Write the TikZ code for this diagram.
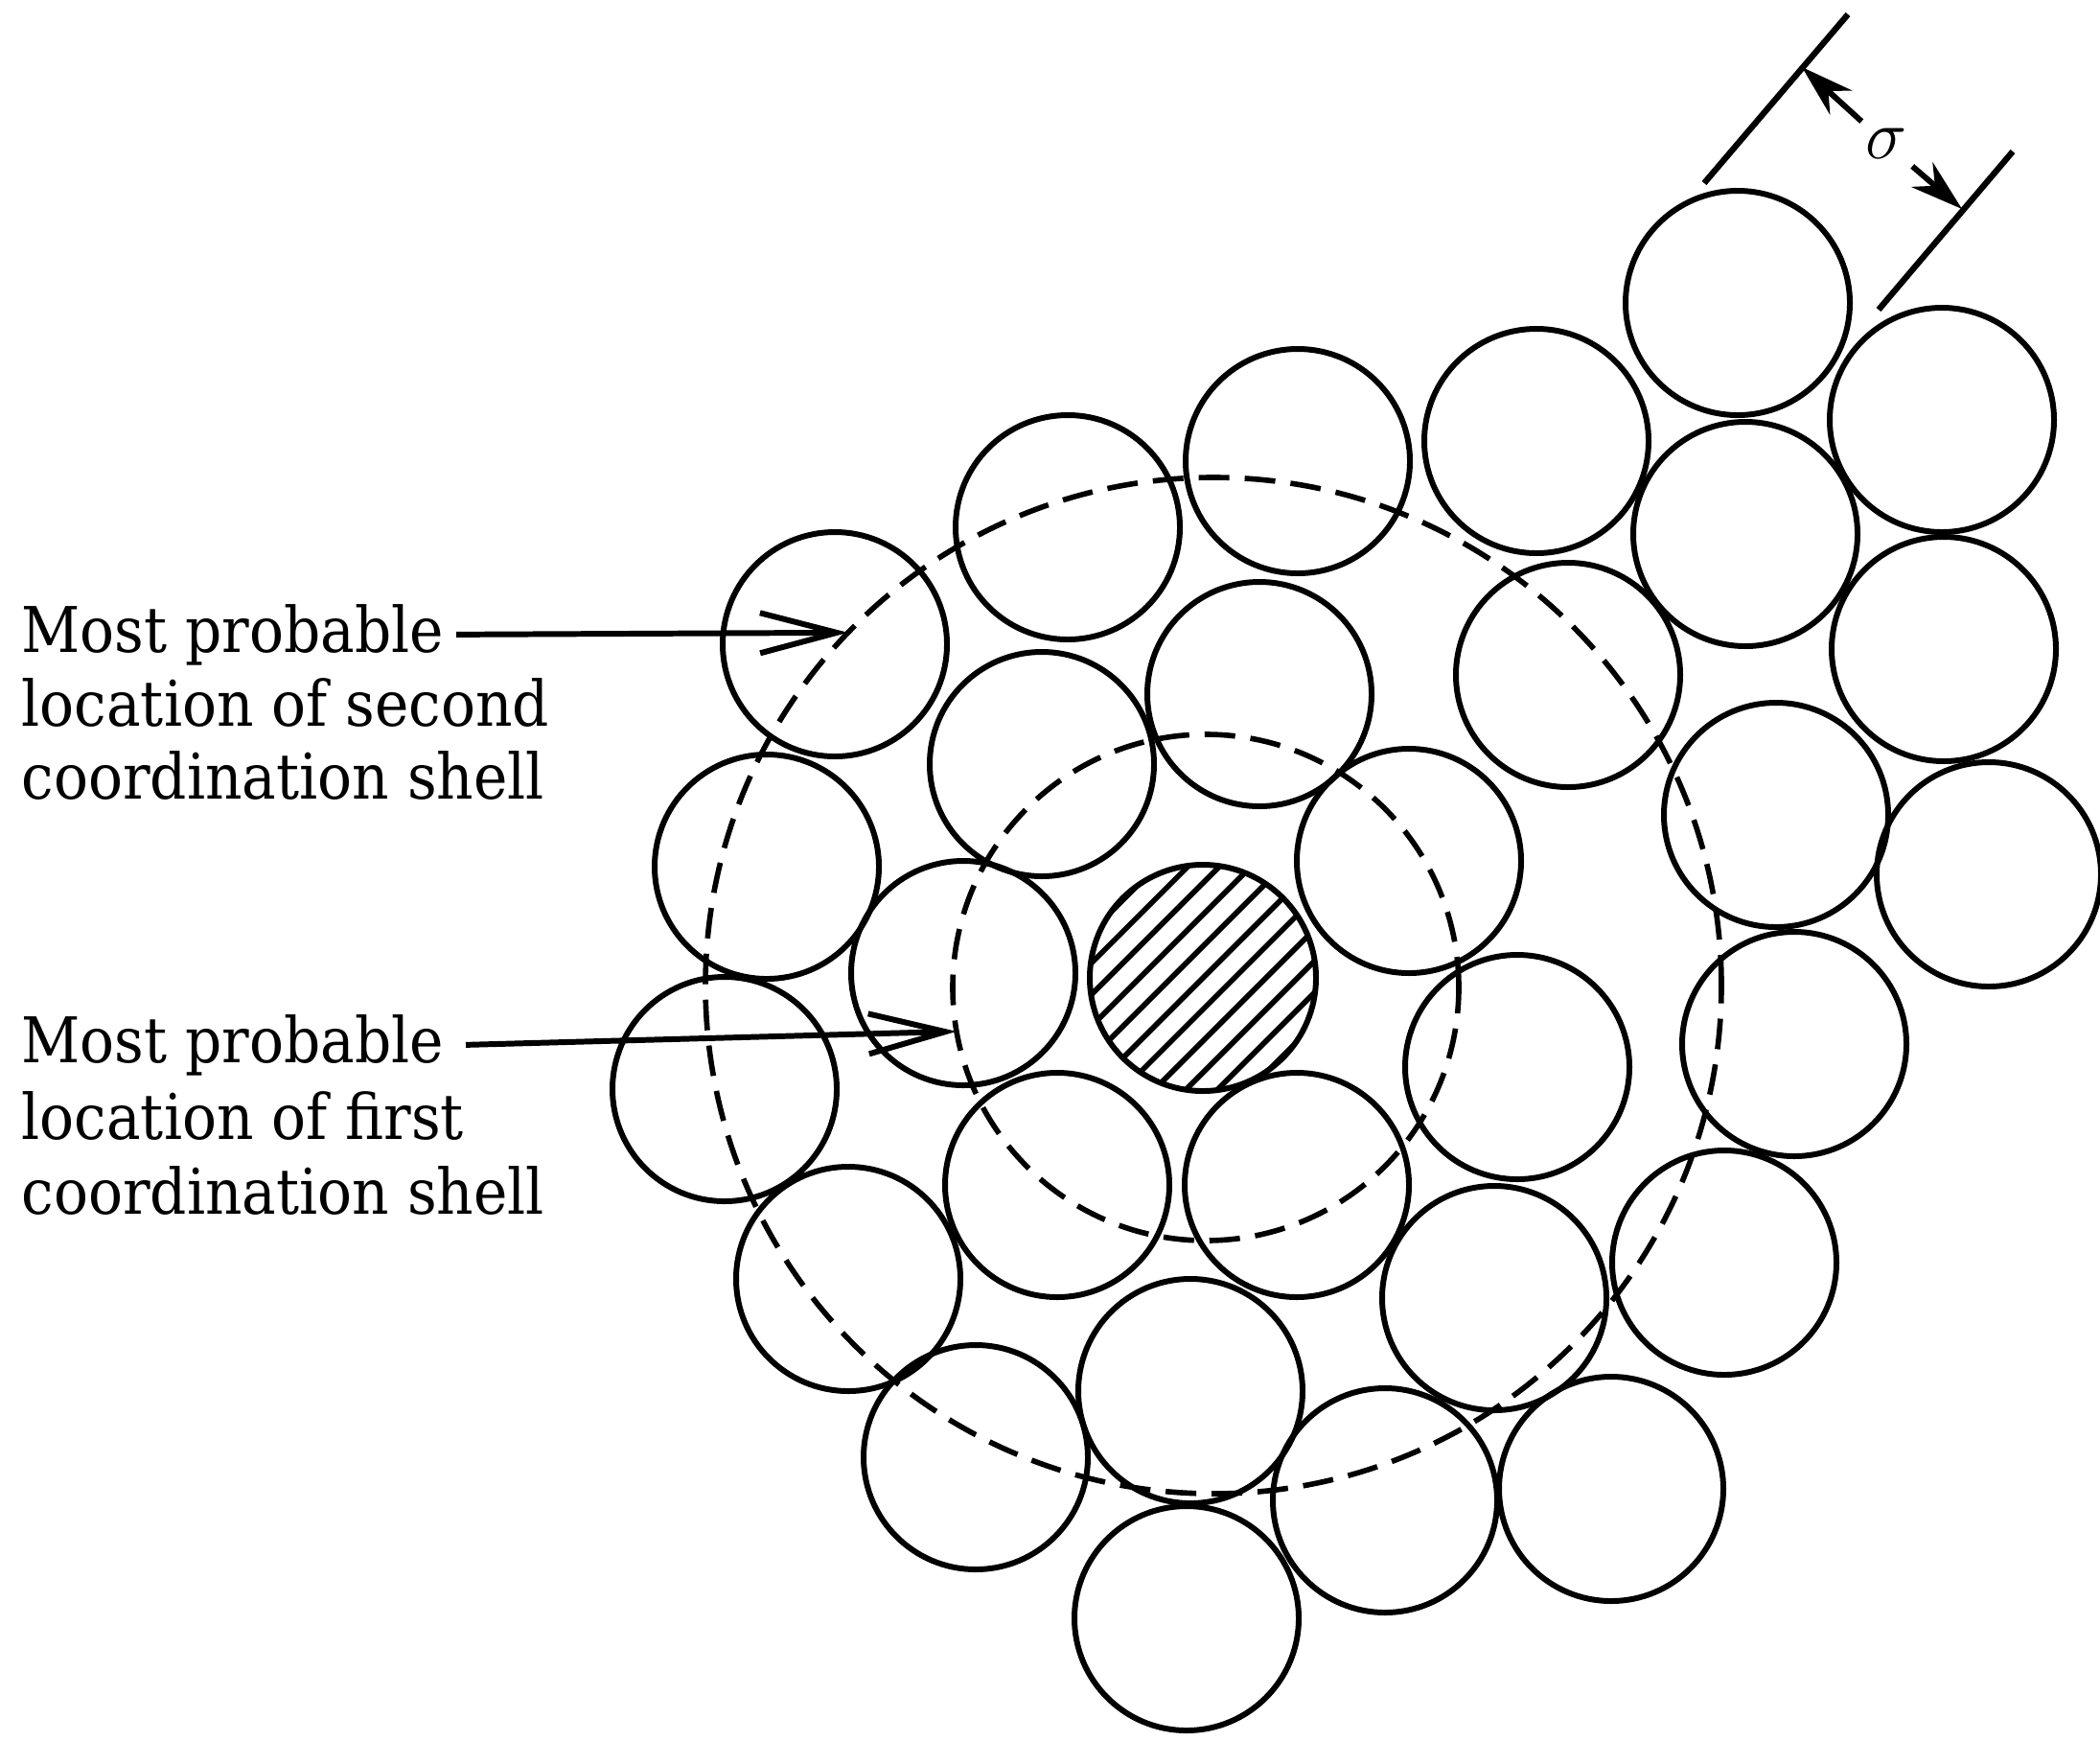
\documentclass[tikz,border=0pt]{standalone}
\usepackage{amsmath}
\usepackage{fontspec}
\newfontfamily\labelfont{DejaVu Serif}[FakeStretch=0.91]
\usetikzlibrary{arrows.meta}

\begin{document}
\begin{tikzpicture}[
  ball/.style={circle,draw,line width=1.7pt,minimum size=2.34cm,inner sep=0pt,outer sep=0pt},
  shell/.style={circle,draw,line width=1.6pt,dash pattern=on 3.2mm off 1.6mm,inner sep=0pt,outer sep=0pt},
  lbl/.style={anchor=base west,inner sep=0pt,font=\labelfont\fontsize{18.7pt}{21pt}\selectfont},
  pointer/.style={line width=1.7pt,-{Straight Barb[length=8mm,width=4.2mm]}},
  dimline/.style={line width=1.8pt},
  dimarrow/.style={line width=1.7pt,-{Stealth[length=5.5mm,width=3.4mm]}}]
\useasboundingbox (0,0) rectangle (21.91,-18.15);
% the two shells
\node[shell,minimum size=5.28cm] (first) at (12.58,-10.30) {};
\node[shell,minimum size=10.6cm] (second) at (12.66,-10.28) {};
% neighbours
\path (18.13,-3.16)  node[ball] (s1) {}
      (20.26,-4.38)  node[ball] (s2) {}
      (18.21,-5.57)  node[ball] (s3) {}
      (20.28,-6.77)  node[ball] (s4) {}
      (16.03,-4.60)  node[ball] (s5) {}
      (13.54,-4.81)  node[ball] (s6) {}
      (11.14,-5.50)  node[ball] (s7) {}
      (8.71,-6.72)   node[ball] (s8) {}
      (16.36,-7.04)  node[ball] (s9) {}
      (13.14,-7.24)  node[ball] (s10) {}
      (10.87,-7.97)  node[ball] (s11) {}
      (8.00,-9.04)   node[ball] (s12) {}
      (18.53,-8.50)  node[ball] (s13) {}
      (20.75,-9.12)  node[ball] (s14) {}
      (14.70,-8.98)  node[ball] (s15) {}
      (10.05,-10.15) node[ball] (s16) {}
      (18.72,-10.89) node[ball] (s17) {}
      (7.56,-11.36)  node[ball] (s18) {}
      (15.83,-11.13) node[ball] (s19) {}
      (11.03,-12.36) node[ball] (s20) {}
      (13.53,-12.36) node[ball] (s21) {}
      (17.99,-13.17) node[ball] (s22) {}
      (8.85,-13.34)  node[ball] (s23) {}
      (15.59,-13.54) node[ball] (s24) {}
      (12.42,-14.51) node[ball] (s25) {}
      (10.18,-15.20) node[ball] (s26) {}
      (14.45,-15.65) node[ball] (s27) {}
      (16.81,-15.53) node[ball] (s28) {}
      (12.38,-16.88) node[ball] (s29) {};
% central molecule
\begin{scope}[shift={(12.55,-10.20)},rotate=45]
  \clip (0,0) circle (1.18);
  \foreach \k in {-5,...,5}
    \draw[line width=1.6pt] (-1.3,\k*0.233) -- (1.3,\k*0.233);
\end{scope}
\node[ball,minimum size=2.36cm] (h) at (12.55,-10.20) {};
% sigma
\coordinate (u1) at (17.78,-1.91);
\coordinate (v1) at (19.28,-0.15);
\coordinate (u2) at (19.60,-3.23);
\coordinate (v2) at (21.00,-1.58);
\draw[dimline] (u1) -- (v1)
               (u2) -- (v2);
\coordinate (t1) at (18.80,-0.70);
\coordinate (t2) at (20.47,-2.18);
\node[inner sep=2pt,font=\fontsize{20pt}{22pt}\selectfont] (sig) at (19.68,-1.50) {$\sigma$};
\draw[dimarrow] (sig) -- (t1);
\draw[dimarrow] (sig) -- (t2);
% labels
\node[lbl] (m2) at (0.22,-6.80) {Most probable};
\node[lbl] (l2) at (0.22,-7.57) {location of second};
\node[lbl] (c2) at (0.22,-8.33) {coordination shell};
\node[lbl] (m1) at (0.22,-11.08) {Most probable};
\node[lbl] (l1) at (0.22,-11.88) {location of first};
\node[lbl] (c1) at (0.22,-12.66) {coordination shell};
\draw[pointer] ([xshift=1.2mm]m2.east) -- (second.136);
\draw[pointer] ([xshift=2.2mm]m1.east) -- (first.190);
\end{tikzpicture}
\end{document}
